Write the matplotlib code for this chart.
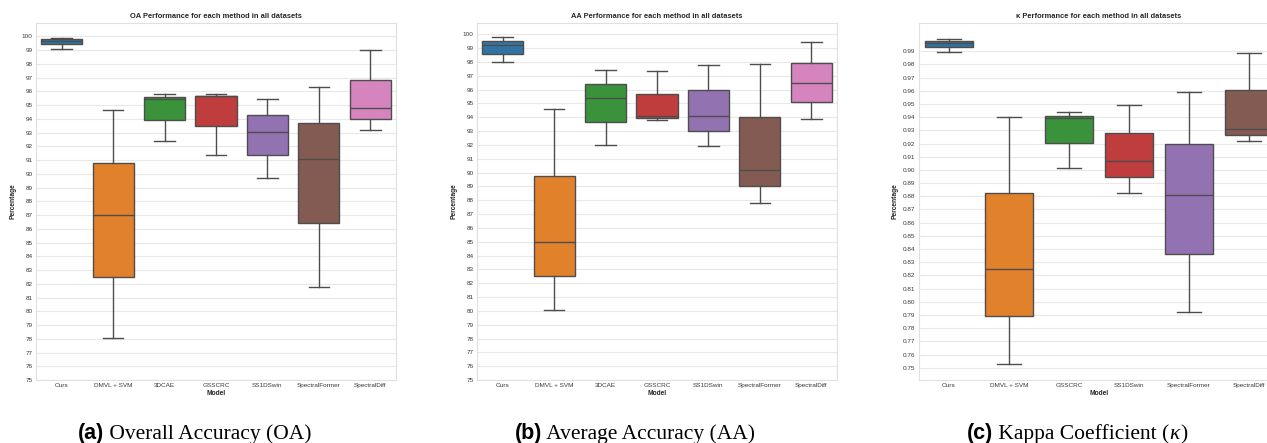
import matplotlib
matplotlib.use("Agg")
import matplotlib.pyplot as plt
import numpy as np

# ---------------- data ----------------
models_ab = ["Ours", "DMVL + SVM", "3DCAE", "GSSCRC", "SS1DSwin", "SpectralFormer", "SpectralDiff"]
models_k = ["Ours", "DMVL + SVM", "GSSCRC", "SS1DSwin", "SpectralFormer", "SpectralDiff"]

oa_whislo = [99.10, 78.02, 92.38, 91.35, 89.67, 81.75, 93.18]
oa_q1     = [99.44, 82.48, 93.88, 93.50, 91.35, 86.43, 93.98]
oa_med    = [99.66, 86.97, 95.47, 95.63, 93.03, 91.06, 94.79]
oa_q3     = [99.83, 90.79, 95.60, 95.69, 94.25, 93.69, 96.86]
oa_whishi = [99.88, 94.64, 95.83, 95.78, 95.47, 96.32, 99.00]

aa_whislo = [97.99, 80.07, 92.03, 93.79, 91.93, 87.80, 93.84]
aa_q1     = [98.60, 82.51, 93.67, 93.96, 93.04, 89.03, 95.12]
aa_med    = [99.22, 84.95, 95.36, 94.10, 94.10, 90.22, 96.45]
aa_q3     = [99.51, 89.78, 96.38, 95.67, 95.96, 93.99, 97.94]
aa_whishi = [99.83, 94.61, 97.43, 97.34, 97.80, 97.85, 99.46]

k_whislo = [0.9897, 0.7530, 0.9014, 0.8824, 0.7920, 0.9219]
k_q1     = [0.9930, 0.7890, 0.9201, 0.8948, 0.8366, 0.9264]
k_med    = [0.9965, 0.8247, 0.9391, 0.9067, 0.8809, 0.9308]
k_q3     = [0.9978, 0.8826, 0.9411, 0.9280, 0.9196, 0.9604]
k_whishi = [0.9991, 0.9403, 0.9441, 0.9494, 0.9589, 0.9890]

yticks_ab = list(range(75, 101))
yticks_k = [round(0.75 + 0.01 * i, 2) for i in range(25)]

titles = ["OA Performance for each method in all datasets",
          "AA Performance for each method in all datasets",
          "\u03ba Performance for each method in all datasets"]

palette = ["#3274a1", "#e1812c", "#3a923a", "#c03d3e", "#9372b2", "#845b53", "#d684bd"]
gray = "#4d4d4d"

# ---------------- figure ----------------
W, H = 1267, 443
fig = plt.figure(figsize=(W / 100, H / 100), dpi=100)
plt.rcParams['font.family'] = ['Liberation Sans', 'DejaVu Sans']

bottom = 1 - 380 / H
height = (380 - 23) / H
width = 360 / W
lefts = [36 / W, 477 / W, 919 / W]

panels = [
    (models_ab, oa_whislo, oa_q1, oa_med, oa_q3, oa_whishi, yticks_ab, lambda v: f"{v:d}"),
    (models_ab, aa_whislo, aa_q1, aa_med, aa_q3, aa_whishi, yticks_ab, lambda v: f"{v:d}"),
    (models_k, k_whislo, k_q1, k_med, k_q3, k_whishi, yticks_k, lambda v: f"{v:.2f}"),
]

for i, (names, lo, q1, med, q3, hi, yt, fmt) in enumerate(panels):
    ax = fig.add_axes([lefts[i], bottom, width, height])
    stats = [dict(whislo=a, q1=b, med=c, q3=d, whishi=e, fliers=[])
             for a, b, c, d, e in zip(lo, q1, med, q3, hi)]
    n = len(names)
    bp = ax.bxp(stats, positions=list(range(n)), widths=0.8, capwidths=0.4,
                patch_artist=True, showfliers=False,
                boxprops=dict(edgecolor=gray, linewidth=1.0),
                whiskerprops=dict(color=gray, linewidth=1.0),
                capprops=dict(color=gray, linewidth=1.0),
                medianprops=dict(color=gray, linewidth=1.0))
    for j, patch in enumerate(bp['boxes']):
        patch.set_facecolor(palette[j])
    ax.set_xlim(-0.5, n - 0.5)
    ax.set_yticks(yt)
    ax.set_yticklabels([fmt(v) for v in yt])
    ax.set_xticks(list(range(n)))
    ax.set_xticklabels(names)
    ax.tick_params(axis='both', length=0, labelsize=4.6, colors='#3a3a3a', pad=2.5)
    ax.yaxis.grid(True, color='#e8e8e8', linewidth=0.8)
    ax.xaxis.grid(False)
    ax.set_axisbelow(True)
    for sp in ax.spines.values():
        sp.set_color('#e0e0e0')
        sp.set_linewidth(0.8)
    ax.set_title(titles[i], fontsize=5.4, fontweight='bold', color='#262626', pad=3.5)
    ax.set_xlabel("Model", fontsize=4.8, fontweight='bold', color='#262626', labelpad=1.2)
    ax.set_ylabel("Percentage", fontsize=4.8, fontweight='bold', color='#262626', labelpad=3.5)

# ---------------- captions ----------------
captions = [
    [("(a)", dict(family='Liberation Sans', weight='bold')),
     (" Overall Accuracy (OA)", dict(family='Liberation Serif'))],
    [("(b)", dict(family='Liberation Sans', weight='bold')),
     (" Average Accuracy (AA)", dict(family='Liberation Serif'))],
    [("(c)", dict(family='Liberation Sans', weight='bold')),
     (" Kappa Coefficient (", dict(family='Liberation Serif')),
     ("\u03ba", dict(family='Liberation Serif', style='italic')),
     (")", dict(family='Liberation Serif'))],
]
cap_x = [78, 515, 967]
cap_y = 1 - 439 / H
fig.canvas.draw()
renderer = fig.canvas.get_renderer()
for parts, x0 in zip(captions, cap_x):
    x = x0
    for s, kw in parts:
        t = fig.text(x / W, cap_y, s, fontsize=15.5, va='baseline', ha='left', color='black', **kw)
        bb = t.get_window_extent(renderer=renderer)
        x = bb.x1

fig.savefig("out.png", dpi=100)
